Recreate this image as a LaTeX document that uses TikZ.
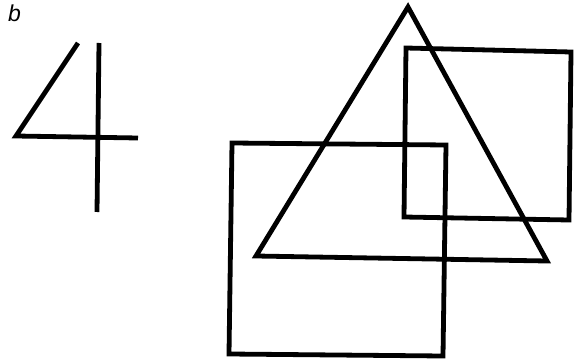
\documentclass[tikz,border=0pt]{standalone}
\usepackage{fontspec}
\setsansfont{Liberation Sans}
\begin{document}
\begin{tikzpicture}[x=1pt,y=-1pt,
  outline/.style={line width=4.8pt,line join=miter,draw=black}]
\useasboundingbox (0,0) rectangle (575,363);
\node[font=\sffamily\itshape\fontsize{23}{23}\selectfont,inner sep=0pt] (lab) at (14.5,13.5) {b};
% figure 4
\draw[outline] (78,43) -- (16,136) -- (138,138);
\draw[outline] (99,43) -- (97,212);
% lower-left square
\draw[outline] (232,143) -- (446,145) -- (443,356) -- (229,354) -- cycle;
% upper-right square
\draw[outline] (406,48) -- (571,52) -- (569,220) -- (404,217) -- cycle;
% triangle
\draw[outline] (408,7) -- (547,261) -- (256,256) -- cycle;
\end{tikzpicture}
\end{document}
